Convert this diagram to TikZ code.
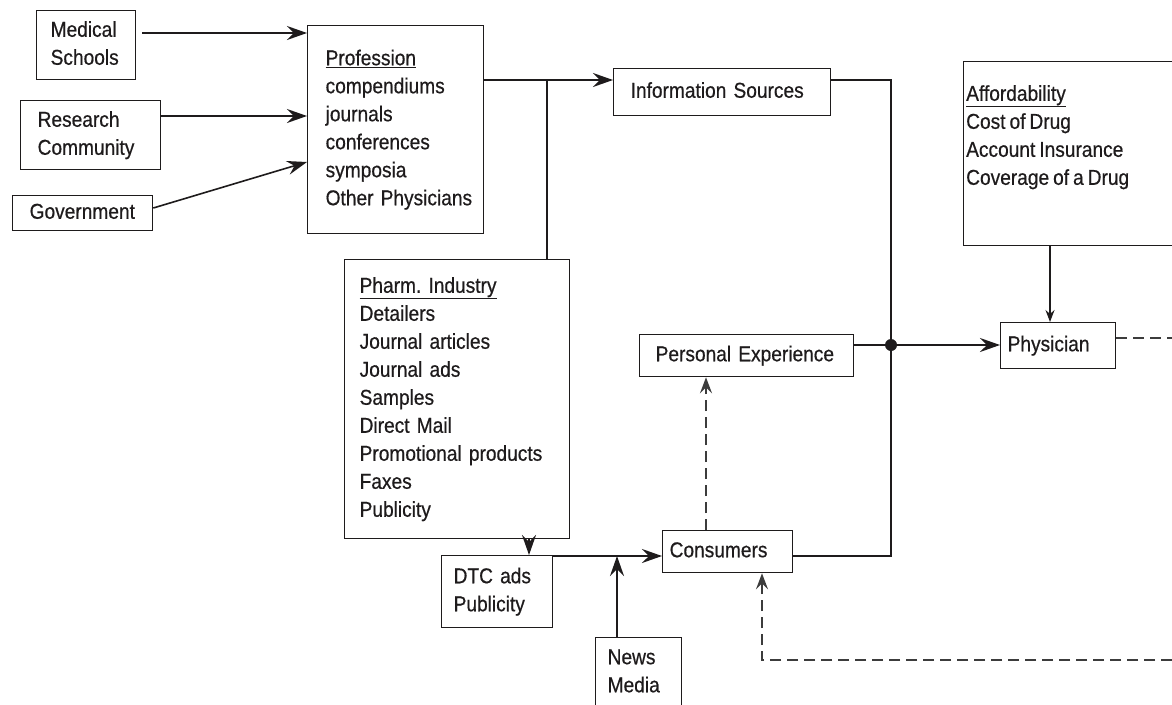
\documentclass[tikz,border=0pt]{standalone}
\usepackage{fontspec}
\setmainfont{Liberation Sans}[FakeStretch=0.89, FakeBold=0.5, WordSpace=0.75]
\usetikzlibrary{arrows.meta}
\definecolor{ink}{HTML}{1E1B1C}
\definecolor{dashgrey}{HTML}{3C3C3C}
\newcommand\boxlines[1]{\begin{tabular}{@{}l@{}}#1\end{tabular}}
\newcommand\heading[1]{\underline{#1}}
\begin{document}
\begin{tikzpicture}[x=1pt,y=-1pt,
  box/.style={draw=ink, line width=1.3pt, anchor=north west, align=left,
    inner ysep=0pt, text=ink, font=\fontsize{21.5}{28}\selectfont},
  sized/.style n args={3}{minimum height=#2, inner xsep=#3, text width=#1-2*#3},
  arr/.style={draw=ink, line width=1.6pt, -{Stealth[length=20pt,width=14pt,inset=7pt]}},
  smallarr/.style={draw=ink, line width=1.2pt, -{Stealth[length=12pt,width=9pt,inset=4pt]}},
  link/.style={draw=ink, line width=1.6pt},
  dasharr/.style={draw=dashgrey, line width=2.2pt, dash pattern=on 11pt off 6pt,
    -{Stealth[length=16pt,width=12pt,inset=6pt]}},
  dashlink/.style={draw=dashgrey, line width=2.2pt, dash pattern=on 11pt off 6pt},
]
\clip (0,0) rectangle (1172,704);
\fill[white] (0,0) rectangle (1172,704);

% sources feeding the profession
\node[box, sized={99}{69}{14}] (ms) at (36,10) {\boxlines{Medical\\Schools}};
\node[box, sized={140}{69}{17}] (rc) at (20,100) {\boxlines{Research\\Community}};
\node[box, sized={140}{35}{17}] (gov) at (12,195) {\boxlines{Government}};

% profession and industry
\node[box, sized={176}{208}{18}] (prof) at (307,25)
  {\boxlines{\heading{Profession}\\compendiums\\journals\\conferences\\symposia\\Other Physicians}};
\node[box, sized={225}{279}{15}] (pharm) at (344,259)
  {\boxlines{\heading{Pharm.\ Industry}\\Detailers\\Journal articles\\Journal ads\\Samples\\Direct Mail\\Promotional products\\Faxes\\Publicity}};
\node[box, sized={111}{72}{12}] (dtc) at (441,555) {\boxlines{DTC ads\\Publicity}};
\node[box, sized={86}{70}{12}] (news) at (595,637) {\boxlines{News\\Media}};

% information flow
\node[box, sized={217}{47}{17}] (info) at (613,68) {\boxlines{Information Sources}};
\node[box, sized={214}{42}{16}] (pe) at (639,334) {\boxlines{Personal Experience}};
\node[box, sized={130}{42}{7}] (cons) at (662,530) {\boxlines{Consumers}};
\node[box, sized={115}{46}{7}] (phys) at (1000,322) {\boxlines{Physician}};

% affordability
\node[box, minimum width=240, minimum height=184, inner sep=0pt] (aff) at (963,61) {};
\node[anchor=north west, inner sep=0pt, align=left, text=ink, font=\fontsize{21.5}{28}\selectfont]
  (afftext) at (966,81)
  {\boxlines{\heading{Affordability}\\Cost of Drug\\Account Insurance\\Coverage of a Drug}};

% junction points
\coordinate (br) at (547,80);
\coordinate (hub) at (891,345);
\coordinate (dtcline) at (617,556);

% connectors
\draw[arr] (ms.east |- 0,33) ++(6,0) -- (prof.west |- 0,33);
\draw[arr] (rc.east |- 0,116) -- (prof.west |- 0,116);
\draw[arr] (gov.east |- 0,208) -- (prof.west |- 0,162);
\draw[arr] (prof.east |- 0,80) -- (info.west |- 0,80);
\draw[link] (br) -- (br |- pharm.north);
\draw[arr] (pharm.south -| 529,0) -- (dtc.north -| 529,0);
\draw[arr] (dtc.east |- dtcline) -- (cons.west |- dtcline);
\draw[arr] (news.north -| dtcline) -- (dtcline);
\draw[dasharr] (cons.north -| 706,0) -- (pe.south -| 706,0);
\draw[link] (cons.east |- 0,556) -| (hub);
\draw[link] (info.east |- 0,80) -| (hub);
\draw[arr] (pe.east |- hub) -- (phys.west |- hub);
\fill[ink] (hub) circle (6);
\draw[smallarr] (aff.south -| 1050,0) -- (phys.north -| 1050,0);
\coordinate (physout) at (1172,338);
\draw[dashlink] (phys.east |- physout) -- (physout);
\coordinate (fb) at (1172,660);
\draw[dasharr] (fb) -| (cons.south -| 762,0);
\end{tikzpicture}
\end{document}
